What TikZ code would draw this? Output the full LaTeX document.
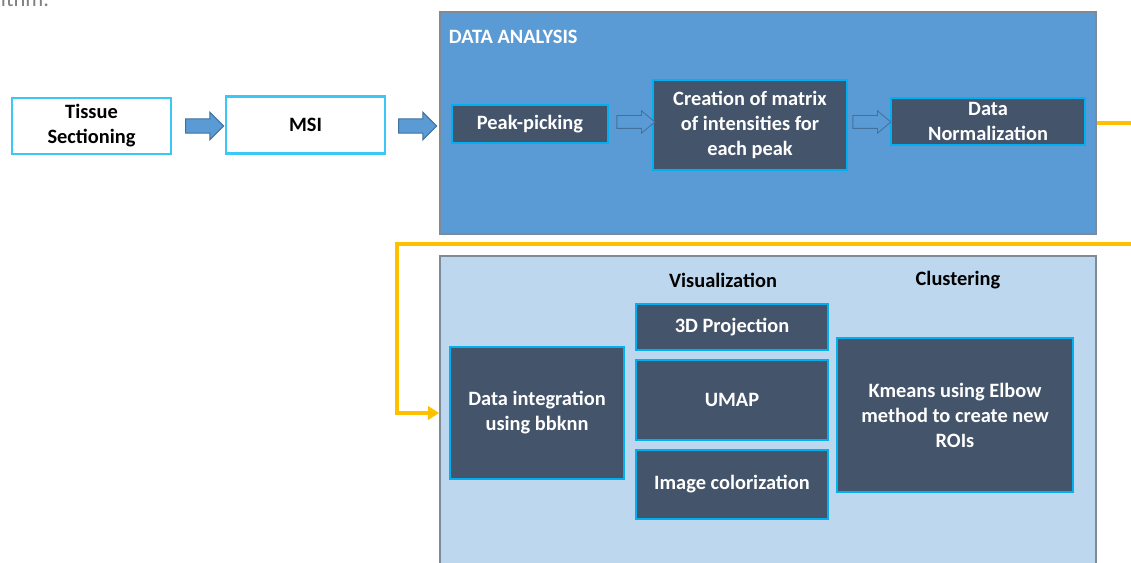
\documentclass[tikz,border=0pt]{standalone}
\usepackage{fontspec}
\setmainfont{Carlito}
\usetikzlibrary{shapes.arrows,arrows.meta}
\definecolor{slate}{HTML}{44546A}
\definecolor{skyline}{HTML}{00B0F0}
\definecolor{brightrim}{HTML}{3CC8F5}
\definecolor{panelblue}{HTML}{5B9BD5}
\definecolor{panellight}{HTML}{BDD7EE}
\definecolor{arrowline}{HTML}{41719C}
\definecolor{flowyellow}{HTML}{FFC000}
\definecolor{rimgray}{HTML}{7F8A99}

\begin{document}
\begin{tikzpicture}[x=0.025cm,y=-0.025cm,
  font=\fontsize{14.5}{17.8}\selectfont\bfseries,
  inbox/.style={draw=brightrim, line width=1.9pt, fill=white, align=center, inner sep=0pt},
  darkbox/.style={draw=skyline, line width=1.7pt, fill=slate, text=white, align=center, inner sep=0pt},
  panel/.style={draw=rimgray, line width=1pt, inner sep=0pt},
  blockarrow/.style={single arrow, fill=panelblue, draw=arrowline, line width=0.8pt,
    inner xsep=0pt, inner ysep=0.165cm, single arrow head extend=0.165cm, minimum height=0.95cm},
  hollowarrow/.style={single arrow, fill=panelblue, draw=arrowline, line width=0.6pt,
    inner xsep=0pt, inner ysep=0.15cm, single arrow head extend=0.12cm,
    single arrow tip angle=80, minimum height=0.95cm},
  flow/.style={draw=flowyellow, line width=2.5pt}]
\clip (0,0) rectangle (1131,563);
\useasboundingbox (0,0) rectangle (1131,563);

\node[anchor=base west, text=gray, font=\fontsize{16}{18}\selectfont] (cut) at (-4,7) {ithm.};

% acquisition
\node[inbox, minimum width=3.975cm, minimum height=1.4cm] (tissue) at (91.5,126) {Tissue\\Sectioning};
\node[inbox, minimum width=3.975cm, minimum height=1.425cm] (msi) at (305.5,125) {MSI};
\node[blockarrow] (a1) at (201,126) {};
\node[blockarrow] (a2) at (414,126) {};

% data analysis
\node[panel, fill=panelblue, minimum width=16.4cm, minimum height=5.55cm] (analysis) at (768,123) {};
\node[anchor=west, text=white] (title) at (444,37) {DATA ANALYSIS};
\node[darkbox, minimum width=3.9cm, minimum height=0.95cm] (peak) at (530,124) {Peak-picking};
\node[darkbox, minimum width=4.85cm, minimum height=2.25cm] (matrix) at (750,125) {Creation of matrix\\of intensities for\\each peak};
\node[darkbox, minimum width=4.85cm, minimum height=1.175cm] (norm) at (988,121.5) {Data\\Normalization};
\node[hollowarrow] (h1) at (632,122) {};
\node[hollowarrow] (h2) at (868,122) {};

% results
\node[panel, fill=panellight, minimum width=16.4cm, minimum height=7.975cm] (results) at (768,415.5) {};
\node (vis) at (723,280) {Visualization};
\node (clu) at (958,280) {Clustering};
\node[darkbox, minimum width=4.35cm, minimum height=3.3cm] (integ) at (537,413) {Data integration\\using bbknn};
\node[darkbox, minimum width=4.8cm, minimum height=1.15cm] (proj) at (732,327) {3D Projection};
\node[darkbox, minimum width=4.8cm, minimum height=2cm] (umap) at (732,400) {UMAP};
\node[darkbox, minimum width=4.8cm, minimum height=1.725cm] (color) at (732,484.5) {Image colorization};
\node[darkbox, minimum width=5.9cm, minimum height=3.85cm] (kmeans) at (955,415) {Kmeans using Elbow\\method to create new\\ROIs};

% yellow link
\coordinate (outA) at (1140,123);
\coordinate (outB) at (1140,244);
\coordinate (turn) at (397,244);
\draw[flow] (analysis.east) -- (outA);
\draw[flow, -{Triangle[length=8pt,width=9.5pt]}] (outB) -- (turn) |- (results.west |- integ.west);

\end{tikzpicture}
\end{document}
